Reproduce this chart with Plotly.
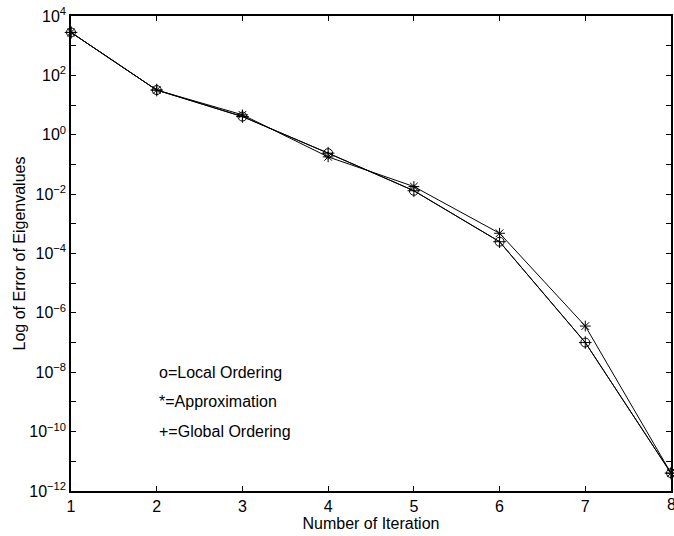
import plotly.graph_objects as go

iterations = [1, 2, 3, 4, 5, 6, 7, 8]
local_ordering = [2800, 32, 4.1, 0.24, 0.013, 2.5e-4, 1.0e-7, 4.0e-12]
approximation = [2800, 32, 4.7, 0.18, 0.018, 4.8e-4, 3.6e-7, 4.0e-12]
global_ordering = [2800, 32, 4.1, 0.24, 0.013, 2.5e-4, 1.0e-7, 4.0e-12]

ytick_exp = list(range(-12, 5))
ytick_vals = [10.0 ** e for e in ytick_exp]
ytick_text = [("10<sup>%s</sup>" % (str(e).replace("-", "\u2212")) if e % 2 == 0 else "") for e in ytick_exp]

legend_texts = ["o=Local Ordering", "*=Approximation", "+=Global Ordering"]
legend_y = [-8, -9, -10]

FONT = "Liberation Sans, Arial"

fig = go.Figure()
fig.add_trace(go.Scatter(x=iterations, y=local_ordering, mode="lines+markers", cliponaxis=False,
                         line=dict(color="black", width=1),
                         marker=dict(symbol="circle-open", size=9, color="black", line=dict(width=1))))
fig.add_trace(go.Scatter(x=iterations, y=approximation, mode="lines+markers", cliponaxis=False,
                         line=dict(color="black", width=1),
                         marker=dict(symbol="asterisk-open", size=9, color="black", line=dict(width=1))))
fig.add_trace(go.Scatter(x=iterations, y=global_ordering, mode="lines+markers", cliponaxis=False,
                         line=dict(color="black", width=1),
                         marker=dict(symbol="cross-thin-open", size=9, color="black", line=dict(width=1))))

for t, yy in zip(legend_texts, legend_y):
    fig.add_annotation(x=2, y=yy, xref="x", yref="y", text=t, showarrow=False,
                       xanchor="left", yanchor="middle",
                       font=dict(family=FONT, size=16, color="black"))

# last x tick label sits on the figure edge (plotly drops it), so draw it as text
fig.add_annotation(x=iterations[-1], y=0, xref="x", yref="paper", text=str(iterations[-1]),
                   showarrow=False, xanchor="center", yanchor="top", yshift=-3,
                   font=dict(family=FONT, size=16, color="black"))

axis_common = dict(showline=True, linecolor="black", linewidth=1.5, mirror="ticks",
                   ticks="inside", ticklen=5, tickcolor="black", showgrid=False, zeroline=False,
                   automargin=False,
                   tickfont=dict(family=FONT, size=16, color="black"))

fig.update_xaxes(range=[1, 8], tickvals=iterations, ticktext=[str(i) for i in iterations],
                 title=dict(text="Number of Iteration", standoff=0,
                            font=dict(family=FONT, size=16, color="black")),
                 **axis_common)
fig.update_yaxes(type="log", range=[-12, 4], tickvals=ytick_vals, ticktext=ytick_text,
                 title=dict(text="Log of Error of Eigenvalues", standoff=0,
                            font=dict(family=FONT, size=16, color="black")),
                 **axis_common)

fig.update_layout(width=674, height=536, showlegend=False,
                  margin=dict(l=71, r=3, t=16, b=45),
                  plot_bgcolor="white", paper_bgcolor="white",
                  font=dict(family=FONT, size=16, color="black"))

fig.write_html("out.html", config={"responsive": False, "displayModeBar": False},
               post_script="document.body.style.margin='0px';document.body.style.overflow='hidden';")
